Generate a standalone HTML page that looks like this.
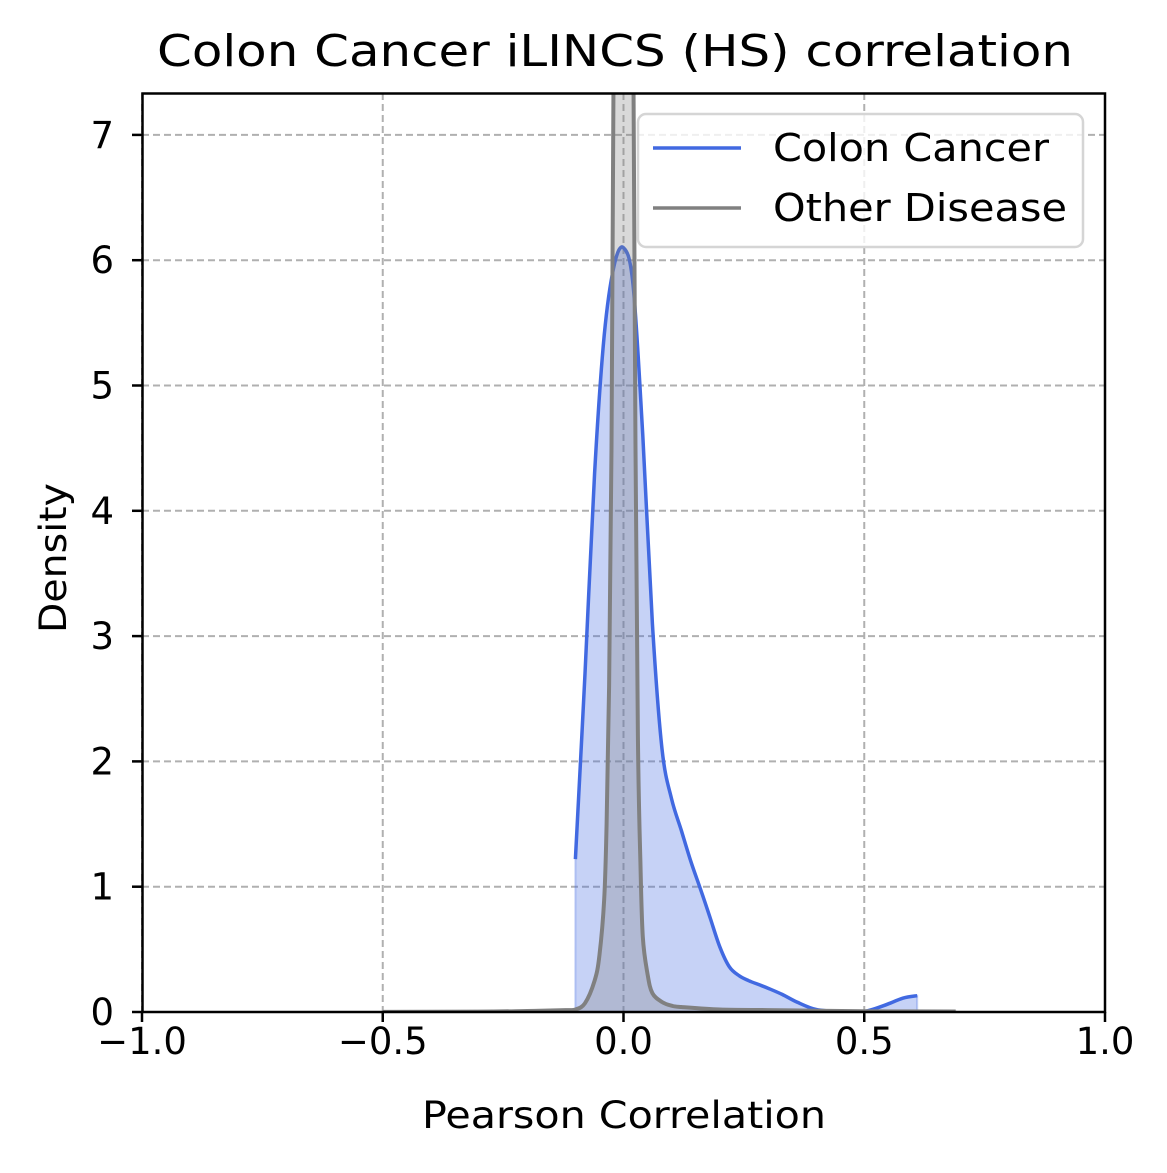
<!DOCTYPE html>
<html><head><meta charset="utf-8"><style>
html,body{margin:0;padding:0;background:#fff;}
svg text{font-family:"DejaVu Sans","Liberation Sans",sans-serif;fill:#000;}
</style></head><body>
<svg id="chart" width="1167" height="1168" viewBox="0 0 1167 1168" xmlns="http://www.w3.org/2000/svg">
<defs><clipPath id="plotclip"><rect x="142" y="93" width="963" height="919"/></clipPath></defs>
<text x="615" y="66" font-size="44" text-anchor="middle" textLength="916" lengthAdjust="spacingAndGlyphs">Colon Cancer iLINCS (HS) correlation</text>
<g id="grid"></g>
<g id="series" clip-path="url(#plotclip)"></g>
<rect x="142.5" y="93.5" width="962.5" height="918.5" fill="none" stroke="#000" stroke-width="2.5"/>
<g id="ticks"></g>
<text x="624" y="1128" font-size="37" text-anchor="middle" textLength="404" lengthAdjust="spacingAndGlyphs">Pearson Correlation</text>
<text transform="translate(66,558) rotate(-90)" font-size="37" text-anchor="middle" textLength="150" lengthAdjust="spacingAndGlyphs">Density</text>
<g>
<rect x="638" y="114" width="445" height="133" rx="8" fill="#fff" fill-opacity="0.8" stroke="#d5d5d5" stroke-width="2.5"/>
<line x1="653" y1="148" x2="741" y2="148" stroke="#4169e1" stroke-width="3.5"/>
<text x="773" y="161" font-size="38" textLength="276" lengthAdjust="spacingAndGlyphs">Colon Cancer</text>
<line x1="653" y1="208" x2="741" y2="208" stroke="#808080" stroke-width="3.5"/>
<text x="773" y="221" font-size="38" textLength="294" lengthAdjust="spacingAndGlyphs">Other Disease</text>
</g>
</svg>
<script>
const xTicks=[-1.0,-0.5,0.0,0.5,1.0];
const xTickLabels=["\u22121.0","\u22120.5","0.0","0.5","1.0"];
const yTicks=[0,1,2,3,4,5,6,7];
const colonX=[-0.1,-0.08,-0.06,-0.04,-0.02,0,0.02,0.04,0.06,0.08,0.1,0.12,0.14,0.16,0.18,0.2,0.22,0.24,0.26,0.28,0.3,0.33,0.36,0.4,0.45,0.5,0.54,0.58,0.61];
const colonY=[1.22,2.7,4.3,5.4,5.95,6.1,5.8,4.6,3.1,2.1,1.7,1.45,1.2,0.98,0.75,0.52,0.36,0.29,0.25,0.22,0.19,0.14,0.08,0.02,0.004,0.005,0.05,0.11,0.13];
const otherX=[-0.5,-0.3,-0.2,-0.12,-0.1,-0.08,-0.06,-0.05,-0.04,-0.035,-0.03,-0.025,-0.02,-0.015,-0.01,0,0.01,0.015,0.02,0.025,0.03,0.035,0.04,0.05,0.06,0.08,0.1,0.12,0.2,0.3,0.4,0.5,0.69];
const otherY=[0.001,0.003,0.008,0.015,0.02,0.07,0.25,0.45,0.9,1.5,2.6,4.5,8,14,20,25,20,14,8,4.5,2.2,1.2,0.6,0.3,0.15,0.08,0.05,0.04,0.02,0.015,0.01,0.006,0.004];
const X=v=>623.5+v*481.5;
const Y=d=>1012-d*125.3;
const NS="http://www.w3.org/2000/svg";
function mk(tag,attrs,parent){const e=document.createElementNS(NS,tag);for(const k in attrs)e.setAttribute(k,attrs[k]);parent.appendChild(e);return e;}
const grid=document.getElementById('grid'),ticks=document.getElementById('ticks'),series=document.getElementById('series');
const xLabW=[95,95,63,63,63];
xTicks.forEach((t,i)=>{
  const g=mk('line',{x1:X(t),x2:X(t),y1:93,y2:1012,stroke:'#b0b0b0','stroke-width':2,'stroke-dasharray':'7,4'},grid);
  
  
  const tk=mk('line',{x1:X(t),x2:X(t),y1:1012,y2:1022,stroke:'#000','stroke-width':2.5},ticks);
  
  
  const tl=mk('text',{x:X(t),y:1054,'font-size':37,'text-anchor':'middle'},ticks);
  tl.textContent=xTickLabels[i];
  
  
});
yTicks.forEach(t=>{
  const g=mk('line',{x1:142,x2:1105,y1:Y(t),y2:Y(t),stroke:'#b0b0b0','stroke-width':2,'stroke-dasharray':'7,4'},grid);
  
  
  const tk=mk('line',{x1:132,x2:142,y1:Y(t),y2:Y(t),stroke:'#000','stroke-width':2.5},ticks);
  
  
  const tl=mk('text',{x:114,y:Y(t)+13,'font-size':37,'text-anchor':'end'},ticks);
  tl.textContent=String(t);
  
  
});
function smooth(p){
  let d='M'+p[0][0].toFixed(1)+','+p[0][1].toFixed(1);
  for(let i=0;i<p.length-1;i++){
    const p0=p[Math.max(0,i-1)],p1=p[i],p2=p[i+1],p3=p[Math.min(p.length-1,i+2)];
    const c1x=p1[0]+(p2[0]-p0[0])/6,c1y=p1[1]+(p2[1]-p0[1])/6;
    const c2x=p2[0]-(p3[0]-p1[0])/6,c2y=p2[1]-(p3[1]-p1[1])/6;
    d+=' C'+c1x.toFixed(1)+','+c1y.toFixed(1)+' '+c2x.toFixed(1)+','+c2y.toFixed(1)+' '+p2[0].toFixed(1)+','+p2[1].toFixed(1);
  }
  return d;
}
function drawSeries(xs,ys,color,name,lw){
  const pts=xs.map((x,i)=>[X(x),Y(ys[i])]);
  const d=smooth(pts);
  const area=mk('path',{d:d+' L'+X(xs[xs.length-1])+','+Y(0)+' L'+X(xs[0])+','+Y(0)+' Z',fill:color,'fill-opacity':0.3,stroke:color,'stroke-opacity':0.3,'stroke-width':2},series);
  
  
  const line=mk('path',{d:d,fill:'none',stroke:color,'stroke-width':lw,'stroke-linejoin':'round'},series);
  
  
}
drawSeries(colonX,colonY,'#4169e1','colon-cancer',3.5);
drawSeries(otherX,otherY,'#808080','other-disease',4);
</script>
</body></html>
